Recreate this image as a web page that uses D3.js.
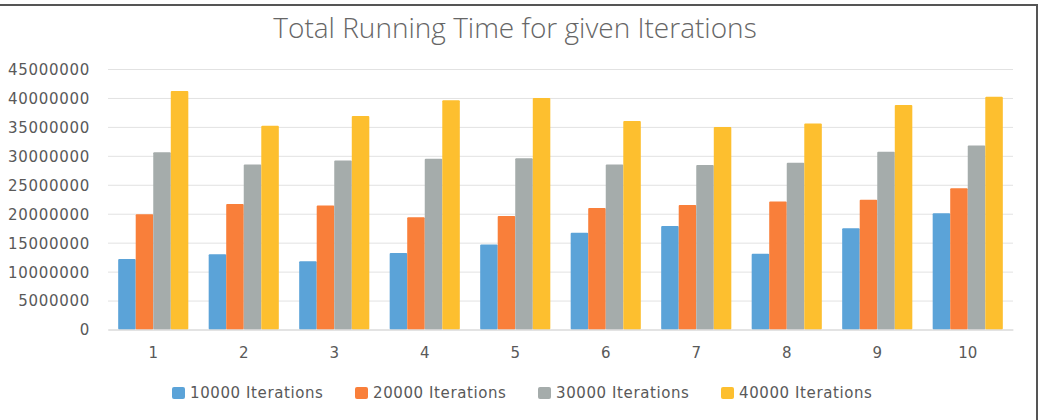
<!DOCTYPE html>
<html>
<head>
<meta charset="utf-8">
<script src="https://cdn.jsdelivr.net/npm/d3@7"></script>
<style>
  html, body { margin: 0; padding: 0; background: #fff; }
  #chart { width: 1041px; height: 420px; }
  .title { font-family: "Open Sans", sans-serif; font-size: 28px; font-weight: 300; fill: #666; }
  .tick text { font-family: "DejaVu Sans", sans-serif; font-size: 15px; fill: #595959; }
  .y-axis .tick text { letter-spacing: 0.7px; }
  .legend text { font-family: "DejaVu Sans", sans-serif; font-size: 15px; fill: #595959; letter-spacing: 0.6px; }
</style>
</head>
<body>
<div id="chart"></div>
<script>
// data
const categories = ["1", "2", "3", "4", "5", "6", "7", "8", "9", "10"];
const seriesNames = ["10000 Iterations", "20000 Iterations", "30000 Iterations", "40000 Iterations"];
const iter10000 = [12200000, 13000000, 11800000, 13200000, 14700000, 16700000, 17900000, 13100000, 17500000, 20100000];
const iter20000 = [19900000, 21700000, 21400000, 19400000, 19600000, 21000000, 21500000, 22100000, 22400000, 24400000];
const iter30000 = [30600000, 28500000, 29200000, 29500000, 29600000, 28500000, 28400000, 28800000, 30700000, 31800000];
const iter40000 = [41200000, 35200000, 36900000, 39600000, 40000000, 36000000, 35000000, 35600000, 38800000, 40200000];
const yTicks = [0, 5000000, 10000000, 15000000, 20000000, 25000000, 30000000, 35000000, 40000000, 45000000];
const colors = ["#5BA3D8", "#F97F3A", "#A5ACAB", "#FDBF2F"];

const seriesValues = [iter10000, iter20000, iter30000, iter40000];
const data = categories.map(function(c, i) {
    return { cat: c, values: seriesValues.map(function(s) { return s[i]; }) };
});

// dimensions
const fullW = 1041, fullH = 420;
const margin = {top: 69, right: 28, bottom: 90.5, left: 108};
const width = fullW - margin.left - margin.right;
const height = fullH - margin.top - margin.bottom;

const root = d3.select("#chart")
    .append("svg")
        .attr("width", fullW)
        .attr("height", fullH);

// frame (top and right edges visible)
root.append("line")
    .attr("x1", 0).attr("x2", 1038)
    .attr("y1", 5).attr("y2", 5)
    .attr("stroke", "#555").attr("stroke-width", 2);
root.append("line")
    .attr("x1", 1037).attr("x2", 1037)
    .attr("y1", 4).attr("y2", fullH)
    .attr("stroke", "#555").attr("stroke-width", 2);

// title
root.append("text")
    .attr("class", "title")
    .attr("x", 515)
    .attr("y", 38)
    .attr("text-anchor", "middle")
    .text("Total Running Time for given Iterations");

const svg = root.append("g")
    .attr("transform", `translate(${margin.left}, ${margin.top})`);

// scales
const xScale = d3.scaleBand()
    .domain(categories)
    .range([0, width])
    .paddingInner(0.225)
    .paddingOuter(0.1125);

const xInner = d3.scaleBand()
    .domain(d3.range(seriesNames.length))
    .range([0, xScale.bandwidth()]);

const yScale = d3.scaleLinear()
    .domain([0, 45000000])
    .range([height, 0]);

// gridlines + y axis
svg.append("g")
    .attr("class", "y-axis")
    .call(d3.axisLeft(yScale).tickValues(yTicks).tickFormat(d3.format("d"))
        .tickSize(-width).tickPadding(18))
    .call(function(g) { g.select(".domain").remove(); })
    .call(function(g) { g.selectAll(".tick line").attr("stroke", "#e2e2e2"); })
    .call(function(g) { g.selectAll(".tick text").attr("dy", "0.36em"); });

// bars
const group = svg.selectAll(".cat")
    .data(data)
    .enter()
    .append("g")
        .attr("class", "cat")
        .attr("transform", function(d) { return `translate(${xScale(d.cat)}, 0)`; });

group.selectAll("rect")
    .data(function(d) { return d.values; })
    .enter()
    .append("rect")
        .attr("x", function(d, i) { return xInner(i); })
        .attr("y", function(d) { return yScale(d); })
        .attr("width", xInner.bandwidth())
        .attr("height", function(d) { return height - yScale(d); })
        .attr("rx", 1)
        .attr("fill", function(d, i) { return colors[i]; });

// x axis
svg.append("g")
    .attr("transform", `translate(0, ${height})`)
    .call(d3.axisBottom(xScale).tickSize(0).tickPadding(18))
    .call(function(g) { g.select(".domain").attr("stroke", "#d6d6d6"); });

// legend
const legend = root.append("g")
    .attr("class", "legend")
    .attr("transform", "translate(172, 387)");

const item = legend.selectAll("g")
    .data(seriesNames)
    .enter()
    .append("g")
        .attr("transform", function(d, i) { return `translate(${i * 183}, 0)`; });

item.append("rect")
    .attr("width", 13)
    .attr("height", 12)
    .attr("rx", 2)
    .attr("fill", function(d, i) { return colors[i]; });

item.append("text")
    .attr("x", 18)
    .attr("y", 11)
    .text(function(d) { return d; });
</script>
</body>
</html>
